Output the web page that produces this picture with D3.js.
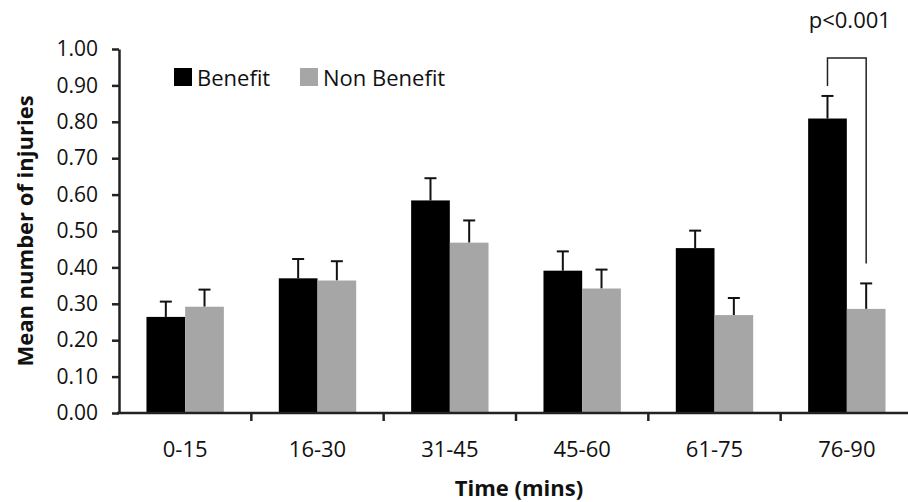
<!DOCTYPE html>
<html>
<head>
<meta charset="utf-8">
<script src="https://cdn.jsdelivr.net/npm/d3@7"></script>
<style>
  body { margin: 0; background: #fff; }
  text { font-family: "Open Sans", sans-serif; fill: #111; }
</style>
</head>
<body>
<script>
const categories = ["0-15", "16-30", "31-45", "45-60", "61-75", "76-90"];
const series = ["Benefit", "Non Benefit"];
const benefit = [0.264, 0.370, 0.584, 0.391, 0.453, 0.809];
const benefitErr = [0.042, 0.053, 0.061, 0.053, 0.048, 0.062];
const nonBenefit = [0.292, 0.364, 0.468, 0.342, 0.269, 0.286];
const nonBenefitErr = [0.047, 0.053, 0.061, 0.052, 0.047, 0.070];
const yTicks = [0, 0.1, 0.2, 0.3, 0.4, 0.5, 0.6, 0.7, 0.8, 0.9, 1.0];
const colors = ["#000000", "#a6a6a6"];

const width = 908, height = 502;
const margin = { top: 49, right: -5, bottom: 90, left: 119 };

const svg = d3.select("body")
  .append("svg")
  .attr("width", width)
  .attr("height", height);

const x = d3.scaleBand()
  .domain(categories)
  .range([margin.left, width - margin.right])
  .paddingInner(0)
  .paddingOuter(0);

const xs = d3.scaleBand()
  .domain(series)
  .range([0, x.bandwidth()])
  .paddingInner(0)
  .paddingOuter(0.71);

const y = d3.scaleLinear()
  .domain([0, 1])
  .range([height - margin.bottom + 1, margin.top]);

const rows = categories.map((c, i) => ({
  cat: c,
  vals: [
    { s: series[0], v: benefit[i], e: benefitErr[i] },
    { s: series[1], v: nonBenefit[i], e: nonBenefitErr[i] }
  ]
}));

const groups = svg.selectAll("g.grp")
  .data(rows)
  .enter()
  .append("g")
  .attr("class", "grp")
  .attr("transform", d => `translate(${x(d.cat)},0)`);

// error bars (upper only)
groups.selectAll("line.err")
  .data(d => d.vals)
  .enter()
  .append("line")
  .attr("x1", d => xs(d.s) + xs.bandwidth() / 2)
  .attr("x2", d => xs(d.s) + xs.bandwidth() / 2)
  .attr("y1", d => y(d.v))
  .attr("y2", d => y(d.v + d.e))
  .attr("stroke", "#111")
  .attr("stroke-width", 2);

groups.selectAll("line.cap")
  .data(d => d.vals)
  .enter()
  .append("line")
  .attr("x1", d => xs(d.s) + xs.bandwidth() / 2 - 6)
  .attr("x2", d => xs(d.s) + xs.bandwidth() / 2 + 6)
  .attr("y1", d => y(d.v + d.e))
  .attr("y2", d => y(d.v + d.e))
  .attr("stroke", "#111")
  .attr("stroke-width", 2);

groups.selectAll("rect")
  .data(d => d.vals)
  .enter()
  .append("rect")
  .attr("x", d => xs(d.s))
  .attr("width", xs.bandwidth())
  .attr("y", d => y(d.v))
  .attr("height", d => y(0) - y(d.v))
  .attr("fill", (d, i) => colors[i]);

// y axis
const yAxis = svg.append("g")
  .attr("transform", `translate(${margin.left},0)`)
  .call(d3.axisLeft(y).tickValues(yTicks).tickFormat(d3.format(".2f")).tickSize(7).tickSizeOuter(0))
yAxis.select(".domain").attr("stroke", "#222").attr("stroke-width", 2.5);
yAxis.selectAll(".tick line").attr("stroke", "#222").attr("stroke-width", 2.5);
yAxis.selectAll(".tick text")
  .attr("x", -21)
  .style("font-size", "21px")
  .style("font-family", "'Open Sans', sans-serif")
  .attr("fill", "#111");

// x axis, ticks between categories
const xAxisG = svg.append("g")
  .attr("transform", `translate(0,${y(0)})`);
xAxisG.append("line")
  .attr("x1", margin.left - 2)
  .attr("x2", width)
  .attr("stroke", "#222")
  .attr("stroke-width", 2.5);
xAxisG.selectAll("line.tk")
  .data(categories.slice(1))
  .enter()
  .append("line")
  .attr("x1", d => x(d))
  .attr("x2", d => x(d))
  .attr("y1", 0)
  .attr("y2", 8)
  .attr("stroke", "#222")
  .attr("stroke-width", 2.5);
xAxisG.selectAll("text")
  .data(categories)
  .enter()
  .append("text")
  .attr("x", d => x(d) + x.bandwidth() / 2)
  .attr("y", 44)
  .attr("text-anchor", "middle")
  .style("font-size", "22px")
  .text(d => d);

// axis titles
svg.append("text")
  .attr("x", 519)
  .attr("y", 496)
  .attr("text-anchor", "middle")
  .style("font-size", "22px")
  .style("font-weight", "bold")
  .text("Time (mins)");

svg.append("text")
  .attr("transform", `translate(33,${y(0.5)}) rotate(-90)`)
  .attr("text-anchor", "middle")
  .style("font-size", "22px")
  .style("font-weight", "bold")
  .text("Mean number of injuries");

// legend
const legend = svg.append("g");
const legendX = [174, 300];
series.forEach((s, i) => {
  legend.append("rect")
    .attr("x", legendX[i])
    .attr("y", 68)
    .attr("width", 18)
    .attr("height", 18)
    .attr("fill", colors[i]);
  legend.append("text")
    .attr("x", legendX[i] + 23)
    .attr("y", 86)
    .style("font-size", "22px")
    .text(s);
});

// significance bracket on last group
const last = rows[rows.length - 1];
const bx1 = x(last.cat) + xs(series[0]) + xs.bandwidth() / 2;
const bx2 = x(last.cat) + xs(series[1]) + xs.bandwidth() / 2;
const topY = y(0.975);
svg.append("path")
  .attr("d", `M${bx1},${y(last.vals[0].v + last.vals[0].e) - 10}V${topY}H${bx2}V${y(last.vals[1].v + last.vals[1].e) - 20}`)
  .attr("fill", "none")
  .attr("stroke", "#222")
  .attr("stroke-width", 1.5);
svg.append("text")
  .attr("x", (bx1 + bx2) / 2 + 3)
  .attr("y", 28)
  .attr("text-anchor", "middle")
  .style("font-size", "22px")
  .text("p<0.001");
</script>
</body>
</html>
